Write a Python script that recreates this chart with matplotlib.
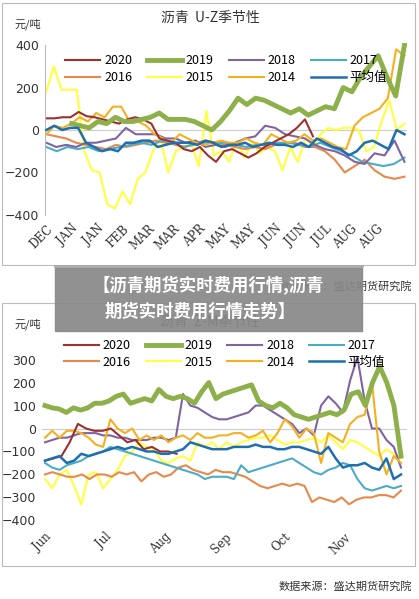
import numpy as np
import matplotlib
matplotlib.use("Agg")
import matplotlib.pyplot as plt
from matplotlib.patches import Rectangle

plt.rcParams['font.family'] = ['Noto Sans CJK SC', 'DejaVu Sans']

names = ['2020', '2019', '2018', '2017', '2016', '2015', '2014', '平均值']
colors = ['#9e3030', '#8db04a', '#8064a2', '#4bacc6', '#e8894a', '#ffff40', '#f5b021', '#1f6fb0']
widths = [1.5, 3.5, 1.5, 1.5, 1.5, 1.5, 1.5, 1.8]

top_labels = ['DEC', 'JAN', 'JAN', 'FEB', 'MAR', 'MAR', 'APR', 'MAY', 'MAY', 'JUN', 'JUN', 'JUL', 'AUG', 'AUG']
bot_labels = ['Jun', 'Jul', 'Aug', 'Sep', 'Oct', 'Nov']

top_2020 = [55,55,60,60,85,65,60,50,40,30,50,60,50,30,-40,-50,-60,-90,-100,-80,-120,-150,-100,-90,-110,-130,-110,-80,-60,-40,-20,10,50,-30]
top_2019 = [30,20,10,40,30,60,40,40,50,60,80,50,50,50,40,20,0,40,90,150,120,150,140,120,100,80,100,70,90,110,100,200,180,250,300,350,250,160,400]
top_2018 = [-60,-80,-70,-80,-60,-60,-50,-40,10,-20,-20,-20,-40,-40,-60,-50,-80,-70,-80,-60,-40,-30,20,10,-20,-30,-40,-70,-90,-100,-120,-150,-160,-110,-120,-50,-150]
top_2017 = [-80,-100,-80,-90,-80,-100,-90,-80,-70,-60,-70,-50,-60,-80,-70,-60,-60,-60,-70,-80,-70,-70,-60,-60,-70,-80,-60,-80,-100,-120,-150,-160,-170,-160,-130]
top_2016 = [-20,-30,-40,-60,-70,-80,-90,-70,-80,-70,-60,-50,-60,-70,-80,-60,-50,-60,-70,-80,-90,-80,-90,-70,-60,-60,-80,-80,-100,-140,-200,-170,-140,-190,-220,-230,-220]
top_2015 = [180,300,190,190,190,-100,-190,-200,-350,-370,-290,-350,-230,-200,-100,-40,-200,-100,-80,-60,-170,90,-120,-100,-150,-50,-130,-60,-110,-80,-100,-190,-80,-150,-40,-80,-20,10,0,10,10,0,-100,-80,40,140,0,30]
top_2014 = [-20,20,10,30,60,40,80,60,110,110,40,40,20,-20,-40,-60,-20,-40,-60,-70,-60,-50,-60,-60,-40,-60,-70,-20,-40,-60,-50,-20,-50,-40,-60,-80,-90,20,60,80,100,150,380,350]
top_avg = [0,20,0,10,10,-60,-80,-100,-90,-100,-60,-60,-50,-50,-80,-70,-60,-60,-60,-70,-50,-60,-80,-70,-70,-60,-80,-70,-60,-70,-70,-80,-60,-80,-40,-60,-80,-90,-120,-100,-60,-50,-70,-90,0,-20]
top_series = [(0, 10.5, top_2020), (1, 14.1, top_2019), (0, 14.1, top_2018), (0, 14.1, top_2017),
              (0, 14.1, top_2016), (0, 14.1, top_2015), (0, 14.1, top_2014), (0, 14.1, top_avg)]

bot_2020 = [-140,-130,-120,-60,20,0,-10,-10,0,-30,-60,-50,-90,-80,-100,-100,-110]
bot_2019 = [100,90,85,70,90,80,90,110,110,120,140,150,110,120,130,120,170,140,130,140,130,110,160,200,130,150,160,170,180,190,120,100,90,110,90,60,50,40,50,60,70,60,80,150,160,100,200,270,200,100,-120]
bot_2018 = [-60,-50,-40,-40,-30,-20,-20,-20,-30,-30,-40,-40,-50,-50,-50,-40,-40,-50,-40,150,100,90,70,50,40,40,50,60,70,100,100,80,60,40,20,-20,0,-30,100,140,110,70,210,310,120,0,0,-50,-80,-170]
bot_2017 = [-150,-170,-180,-160,-150,-140,-120,-110,-100,-80,-90,-100,-110,-120,-130,-140,-150,-160,-170,-180,-190,-200,-220,-210,-210,-210,-220,-160,-190,-180,-170,-160,-150,-140,-130,-150,-170,-190,-200,-180,-170,-150,-160,-220,-260,-270,-260,-250,-260,-250]
bot_2016 = [-200,-190,-200,-210,-210,-200,-220,-200,-200,-210,-190,-200,-190,-230,-200,-190,-210,-200,-170,-160,-180,-190,-200,-180,-190,-190,-200,-210,-230,-250,-260,-250,-240,-250,-240,-250,-320,-300,-310,-320,-300,-330,-310,-300,-300,-290,-290,-300,-270]
bot_2015 = [-220,-260,-200,-180,-250,-330,-200,-190,-260,-220,-180,-120,-100,-60,-80,-90,-140,-150,-130,-120,-140,-60,-80,-60,-90,-60,-80,-60,-50,-40,-40,-30,-50,-70,-60,-60,-50,-40,-60,-30,-60,-90,-50,-60,-80,-100,-120,-90,-110,-130]
bot_2014 = [-40,-10,-40,-10,-10,-20,-40,-70,-80,40,0,-20,0,-50,-30,-50,-30,-60,-40,-30,-50,-20,-40,-40,-30,-30,-20,-20,-40,-30,-10,-60,-20,40,10,-40,0,-20,-150,-20,-40,-60,20,50,60,200,-100,-200,-120,-150]
bot_avg = [-140,-130,-120,-150,-140,-110,-120,-110,-100,-90,-80,-90,-80,-90,-100,-100,-110,-110,-100,-90,-60,-70,-80,-90,-90,-90,-80,-80,-80,-70,-80,-80,-90,-90,-80,-80,-90,-100,-110,-80,-130,-170,-160,-160,-150,-170,-180,-130,-220,-200]
bot_series = [(0, 2.2, bot_2020), (0, 5.95, bot_2019), (0, 5.95, bot_2018), (0, 5.95, bot_2017),
              (0, 5.95, bot_2016), (0, 5.95, bot_2015), (0, 5.95, bot_2014), (0, 5.95, bot_avg)]

W, H = 419, 599
fig = plt.figure(figsize=(W/100, H/100), dpi=100)
fig.patch.set_facecolor('white')

def fx(px): return px / W
def fy(py): return 1 - py / H

for (y0, y1) in [(3, 265), (303, 566)]:
    fig.patches.append(Rectangle((fx(2), fy(y1)), fx(415) - fx(2), fy(y0) - fy(y1),
                                 transform=fig.transFigure, fill=False, ec='#bbbbbb', lw=0.8))

order_z = [5, 4, 3, 2, 6, 0, 1, 7]

def draw(ax, series, xmax, ylim, yticks, labels, anchor_y):
    for i in order_z:
        s, e, v = series[i]
        x = np.linspace(s, e, len(v))
        ax.plot(x, v, color=colors[i], lw=widths[i], label=names[i], zorder=2 + (i == 7))
    ax.axhline(0, color='#cccccc', lw=0.8, zorder=1)
    ax.set_xlim(-0.05, xmax)
    ax.set_ylim(*ylim)
    ax.set_yticks(yticks)
    ax.set_yticklabels(['\u2212%d' % -t if t < 0 else str(t) for t in yticks], fontsize=9, color='#333333',
                       family=['DejaVu Sans'])
    ax.set_xticks(range(len(labels)))
    ax.set_xticklabels(labels, rotation=45, ha='right', rotation_mode='anchor', fontsize=8.5,
                       family='DejaVu Serif', color='#333333')
    for sp in ['top', 'right', 'bottom']:
        ax.spines[sp].set_visible(False)
    ax.spines['left'].set_color('#bbbbbb')
    ax.tick_params(length=0, pad=4)
    handles = {h.get_label(): h for h in ax.get_lines() if not h.get_label().startswith('_')}
    order = ['2020', '2016', '2019', '2015', '2018', '2014', '2017', '平均值']
    ax.legend([handles[n] for n in order], order, ncol=4, loc='upper center', frameon=False,
              fontsize=9, handlelength=2.8, columnspacing=1.2, handletextpad=0.3,
              bbox_to_anchor=(0.5, anchor_y), labelspacing=0.3)
    ax.set_facecolor('none')

ax1 = fig.add_axes([fx(45), fy(217), fx(407) - fx(45), fy(43) - fy(217)])
draw(ax1, top_series, 14.2, (-410, 410), [-400, -200, 0, 200, 400], top_labels, 1.0)
ax1.spines['left'].set_bounds(-400, 400)
fig.text(fx(14), fy(24), '元/吨', fontsize=8, color='#333333', va='center')
fig.text(fx(210), fy(18), '沥青  U-Z季节性', fontsize=10, color='#333333', ha='center', va='center')
fig.lines.append(plt.Line2D([fx(55), fx(362)], [fy(266), fy(266)], transform=fig.transFigure, color='#aaaaaa', lw=2))

ax2 = fig.add_axes([fx(42), fy(525), fx(407) - fx(42), fy(355) - fy(525)])
draw(ax2, bot_series, 6.05, (-420, 320), [-400, -300, -200, -100, 0, 100, 200, 300], bot_labels, 1.16)
ax2.spines['left'].set_visible(False)
fig.text(fx(14), fy(324), '元/吨', fontsize=8, color='#333333', va='center')
fig.text(fx(210), fy(322), '沥青  Z-M季节性', fontsize=10, color='#333333', ha='center', va='center')
fig.text(fx(412), fy(286), '数据来源：盛达期货研究院', fontsize=8, color='#333333', ha='right', va='center', style='italic')
fig.text(fx(412), fy(586), '数据来源：盛达期货研究院', fontsize=8, color='#333333', ha='right', va='center', style='italic')

fig.patches.append(Rectangle((fx(55), fy(331)), fx(362) - fx(55), fy(268) - fy(331),
                             transform=fig.transFigure, color='#888888', alpha=0.92, zorder=10))
fig.text(fx(208), fy(285), '【沥青期货实时费用行情,沥青', fontsize=12.5, fontweight='bold', color='white',
         ha='center', va='center', zorder=11)
fig.text(fx(200), fy(312), '期货实时费用行情走势】', fontsize=12.5, fontweight='bold', color='white',
         ha='center', va='center', zorder=11)

fig.savefig('out.png', dpi=100, facecolor='white')
